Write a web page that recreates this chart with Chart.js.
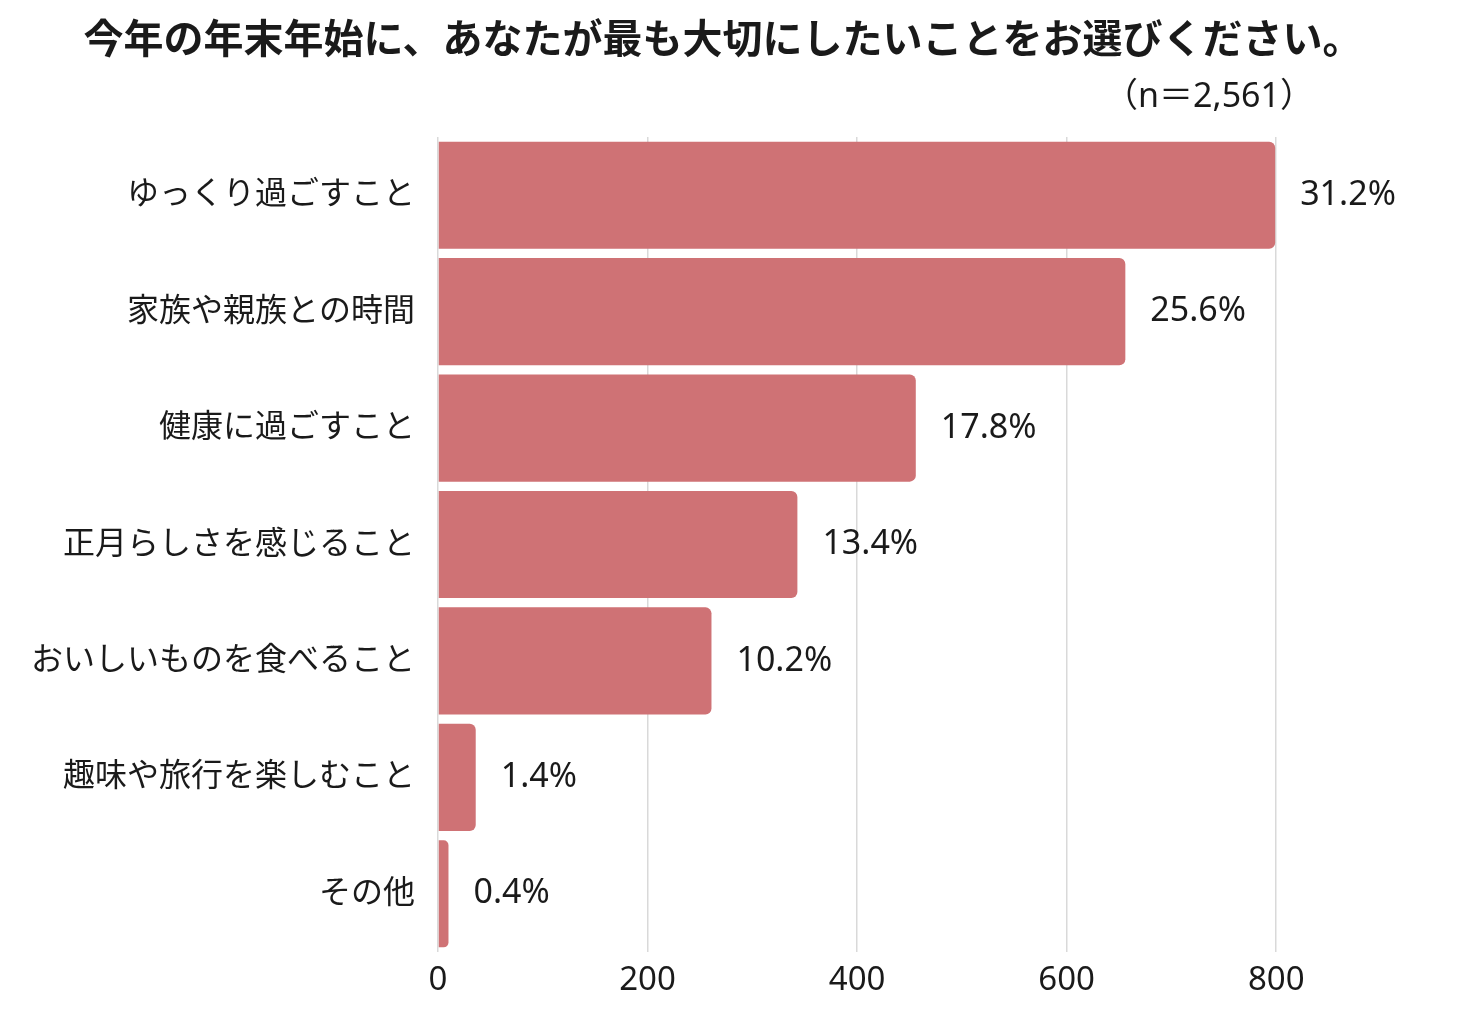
<!DOCTYPE html>
<html lang="ja">
<head>
<meta charset="utf-8">
<title>年末年始に大切にしたいこと</title>
<script src="https://cdn.jsdelivr.net/npm/chart.js@4.4.1/dist/chart.umd.min.js"></script>
<style>
  html, body { margin: 0; padding: 0; background: #fff; }
  #wrap { width: 1470px; height: 1020px; }
</style>
</head>
<body>
<div id="wrap"><canvas id="grafico" width="1470" height="1020"></canvas></div>
<script>
// dados
const categorias = [
  'ゆっくり過ごすこと',
  '家族や親族との時間',
  '健康に過ごすこと',
  '正月らしさを感じること',
  'おいしいものを食べること',
  '趣味や旅行を楽しむこと',
  'その他'
];
const contagens = [799, 656, 456, 343, 261, 36, 10];
const percentagens = ['31.2%', '25.6%', '17.8%', '13.4%', '10.2%', '1.4%', '0.4%'];
const ticksX = [0, 200, 400, 600, 800];

const titulo = '今年の年末年始に、あなたが最も大切にしたいことをお選びください。';
const subtitulo = '（n＝2,561）';

const FONTE = '"Noto Sans", "Noto Sans CJK JP", sans-serif';
const COR_TEXTO = '#1a1a1a';

// escreve o título, o n e as percentagens ao lado das barras
const textosPlugin = {
  id: 'textos',
  afterDatasetsDraw(chart) {
    const ctx = chart.ctx;
    ctx.save();
    ctx.fillStyle = COR_TEXTO;

    ctx.font = 'bold 40px ' + FONTE;
    ctx.textAlign = 'center';
    ctx.textBaseline = 'middle';
    ctx.fillText(titulo, 723, 42);

    ctx.font = '34px ' + FONTE;
    ctx.textAlign = 'right';
    ctx.fillText(subtitulo, 1314, 97);

    ctx.font = '34px ' + FONTE;
    ctx.textAlign = 'left';
    const meta = chart.getDatasetMeta(0);
    meta.data.forEach((barra, i) => {
      ctx.fillText(percentagens[i], barra.x + 25, barra.y);
    });
    ctx.restore();
  }
};

const ctx = document.getElementById('grafico').getContext('2d');

new Chart(ctx, {
  type: 'bar',
  data: {
    labels: categorias,
    datasets: [{
      label: '回答数',
      data: contagens,
      backgroundColor: '#cf7275',
      borderWidth: 0,
      borderSkipped: 'start',
      borderRadius: { topRight: 6, bottomRight: 6, topLeft: 0, bottomLeft: 0 },
      categoryPercentage: 0.92,
      barPercentage: 1.0
    }]
  },
  options: {
    indexAxis: 'y',
    responsive: false,
    animation: false,
    layout: { padding: { top: 137, right: 89, bottom: 0, left: 0 } },
    plugins: {
      legend: { display: false },
      tooltip: { enabled: false }
    },
    scales: {
      x: {
        min: 0,
        max: 900,
        afterBuildTicks(scale) {
          scale.ticks = ticksX.map(v => ({ value: v }));
        },
        afterFit(scale) { scale.height = 68; },
        grid: { color: '#d9d9d9', lineWidth: 1.5, drawTicks: false },
        border: { display: false },
        ticks: {
          padding: 9,
          color: COR_TEXTO,
          font: { family: FONTE, size: 33 }
        }
      },
      y: {
        afterFit(scale) { scale.width = 438; },
        grid: { display: false },
        border: { display: false },
        ticks: {
          padding: 15,
          color: COR_TEXTO,
          font: { family: FONTE, size: 32 }
        }
      }
    }
  },
  plugins: [textosPlugin]
});
</script>
</body>
</html>
